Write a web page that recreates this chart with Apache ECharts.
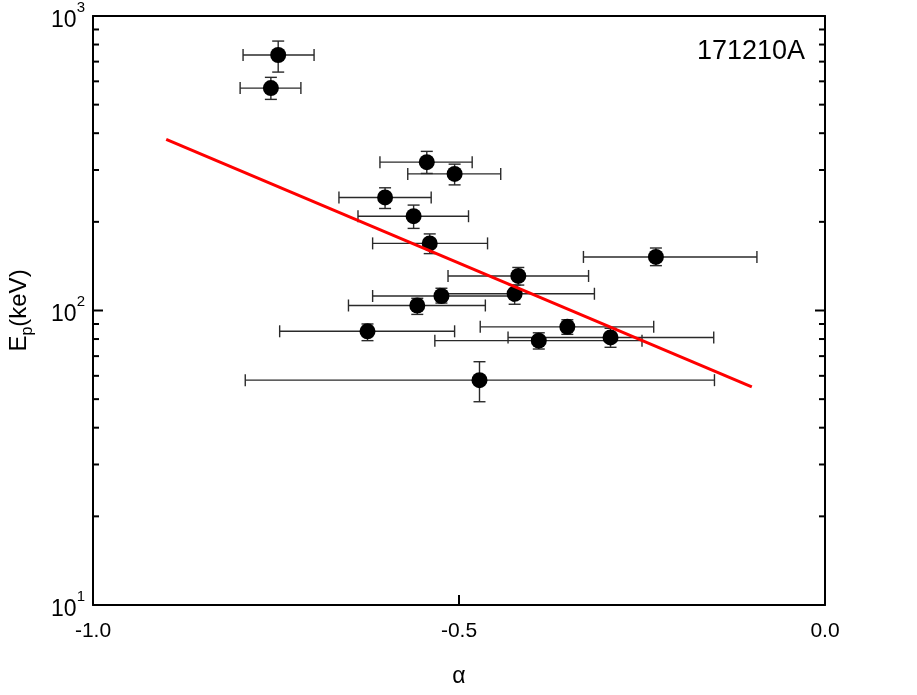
<!DOCTYPE html>
<html>
<head>
<meta charset="utf-8">
<script src="https://cdn.jsdelivr.net/npm/echarts@6/dist/echarts.min.js"></script>
<style>
html, body { margin: 0; padding: 0; background: #fff; }
#divChart { width: 917px; height: 695px; }
</style>
</head>
<body>
<div id="divChart"></div>
<script>
// alpha (low-energy index) with its error range
var alphaVals = [-0.747, -0.757, -0.544, -0.506, -0.601, -0.562, -0.540, -0.231, -0.419, -0.524, -0.424, -0.557, -0.625, -0.352, -0.391, -0.293, -0.472];
var alphaLo   = [-0.795, -0.799, -0.608, -0.570, -0.664, -0.638, -0.618, -0.330, -0.515, -0.618, -0.526, -0.651, -0.745, -0.471, -0.533, -0.433, -0.792];
var alphaHi   = [-0.698, -0.716, -0.482, -0.443, -0.538, -0.487, -0.461, -0.093, -0.323, -0.426, -0.315, -0.464, -0.506, -0.234, -0.250, -0.152, -0.151];
// peak energy Ep (keV) with its error range
var epVals = [737, 569, 319, 291, 242, 209, 169, 152, 131, 112, 114, 104, 85, 88, 79, 81, 58];
var epLo   = [645, 521, 292, 267, 222, 190, 156, 142, 122, 106, 105, 97, 79, 83, 74, 75, 49];
var epHi   = [822, 619, 347, 314, 261, 228, 182, 163, 140, 119, 122, 110, 90, 93, 84, 87, 67];

// fitted line end points
var fitAlpha = [-0.9, -0.1];
var fitEp = [381, 55];

// ticks
var xMajorTicks = [-1, -0.5, 0];
var yMajorTicks = [10, 100, 1000];
var yMinorTicks = [20, 30, 40, 50, 60, 70, 80, 90, 200, 300, 400, 500, 600, 700, 800, 900];

var burstName = '171210A';
var FONT = 'Liberation Sans, Arial, sans-serif';

var pointData = [];
var errData = [];
for (var i = 0; i < alphaVals.length; i++) {
	pointData.push([alphaVals[i], epVals[i]]);
	errData.push([alphaVals[i], epVals[i], alphaLo[i], alphaHi[i], epLo[i], epHi[i]]);
}
var fitData = [];
for (var k = 0; k < fitAlpha.length; k++) {
	fitData.push([fitAlpha[k], fitEp[k]]);
}
// [x, y, kind]  kind: 0 = y minor, 1 = y major, 2 = x major
var tickData = [];
for (var m = 0; m < yMinorTicks.length; m++) tickData.push([-1, yMinorTicks[m], 0]);
for (var n = 0; n < yMajorTicks.length; n++) tickData.push([-1, yMajorTicks[n], 1]);
for (var q = 0; q < xMajorTicks.length; q++) tickData.push([xMajorTicks[q], 10, 2]);

var frameLine = { show: true, onZero: false, lineStyle: { color: '#000', width: 2 } };

function powLabel(v) {
	return '{b|10}{s|' + Math.round(Math.log10(v)) + '}';
}

var option = {
	animation: false,
	backgroundColor: '#fff',
	grid: { left: 93, right: 92, top: 16, bottom: 90, containLabel: false, outerBoundsMode: 'none' },
	graphic: [{
		type: 'text',
		right: 112,
		top: 38,
		style: { text: burstName, fontSize: 27, fontFamily: FONT, fill: '#000' }
	}],
	xAxis: [{
		type: 'value',
		position: 'bottom',
		min: -1, max: 0, interval: 0.5,
		axisLine: frameLine,
		axisTick: { show: false },
		axisLabel: {
			color: '#000', fontSize: 21, fontFamily: FONT, margin: 16,
			formatter: function (v) { return v.toFixed(1); }
		},
		splitLine: { show: false },
		name: 'α',
		nameLocation: 'middle',
		nameGap: 60,
		nameTextStyle: { color: '#000', fontSize: 23, fontFamily: FONT }
	}, {
		type: 'value',
		position: 'top',
		min: -1, max: 0, interval: 0.5,
		axisLine: frameLine,
		axisTick: { show: false },
		axisLabel: { show: false },
		splitLine: { show: false }
	}],
	yAxis: [{
		type: 'log',
		logBase: 10,
		position: 'left',
		min: 10, max: 1000,
		axisLine: frameLine,
		axisTick: { show: false },
		axisLabel: {
			margin: 8,
			formatter: powLabel,
			rich: {
				b: { fontSize: 23, fontFamily: FONT, color: '#000', lineHeight: 32, verticalAlign: 'bottom' },
				s: { fontSize: 15, fontFamily: FONT, color: '#000', lineHeight: 15, verticalAlign: 'top' }
			}
		},
		splitLine: { show: false },
		name: 'E{sub|p}(keV)',
		nameLocation: 'middle',
		nameGap: 57,
		nameTextStyle: {
			color: '#000', fontSize: 24, fontFamily: FONT,
			rich: {
				sub: { fontSize: 16, fontFamily: FONT, color: '#000', verticalAlign: 'bottom', lineHeight: 34 }
			}
		}
	}, {
		type: 'log',
		logBase: 10,
		position: 'right',
		min: 10, max: 1000,
		axisLine: frameLine,
		axisTick: { show: false },
		axisLabel: { show: false },
		splitLine: { show: false }
	}],
	series: [{
		// inward ticks on the frame
		type: 'custom',
		silent: true,
		clip: false,
		data: tickData,
		encode: { x: 0, y: 1 },
		renderItem: function (params, api) {
			var cs = params.coordSys;
			var p = api.coord([api.value(0), api.value(1)]);
			var kind = api.value(2);
			var st = { stroke: '#000', lineWidth: 2 };
			if (kind === 2) {
				var yb = cs.y + cs.height;
				return { type: 'line', shape: { x1: p[0], y1: yb, x2: p[0], y2: yb - 10 }, style: st };
			}
			var len = kind === 1 ? 10 : 6;
			return {
				type: 'group',
				children: [
					{ type: 'line', shape: { x1: cs.x, y1: p[1], x2: cs.x + len, y2: p[1] }, style: st },
					{ type: 'line', shape: { x1: cs.x + cs.width - len, y1: p[1], x2: cs.x + cs.width, y2: p[1] }, style: st }
				]
			};
		}
	}, {
		// error bars
		type: 'custom',
		silent: true,
		data: errData,
		encode: { x: [0, 2, 3], y: [1, 4, 5] },
		z: 3,
		renderItem: function (params, api) {
			var x = api.value(0), y = api.value(1);
			var pl = api.coord([api.value(2), y]);
			var ph = api.coord([api.value(3), y]);
			var pyl = api.coord([x, api.value(4)]);
			var pyh = api.coord([x, api.value(5)]);
			var cap = 6;
			var st = { stroke: '#2a2a2a', lineWidth: 1.4 };
			return {
				type: 'group',
				children: [
					{ type: 'line', shape: { x1: pl[0], y1: pl[1], x2: ph[0], y2: ph[1] }, style: st },
					{ type: 'line', shape: { x1: pl[0], y1: pl[1] - cap, x2: pl[0], y2: pl[1] + cap }, style: st },
					{ type: 'line', shape: { x1: ph[0], y1: ph[1] - cap, x2: ph[0], y2: ph[1] + cap }, style: st },
					{ type: 'line', shape: { x1: pyl[0], y1: pyl[1], x2: pyh[0], y2: pyh[1] }, style: st },
					{ type: 'line', shape: { x1: pyl[0] - cap, y1: pyl[1], x2: pyl[0] + cap, y2: pyl[1] }, style: st },
					{ type: 'line', shape: { x1: pyh[0] - cap, y1: pyh[1], x2: pyh[0] + cap, y2: pyh[1] }, style: st }
				]
			};
		}
	}, {
		type: 'scatter',
		data: pointData,
		symbol: 'circle',
		symbolSize: 16,
		itemStyle: { color: '#000', opacity: 1 },
		z: 4
	}, {
		type: 'line',
		data: fitData,
		symbol: 'none',
		lineStyle: { color: '#ff0000', width: 3 },
		z: 5
	}]
};

var divChart = echarts.init(document.getElementById('divChart'));
divChart.setOption(option);
</script>
</body>
</html>
